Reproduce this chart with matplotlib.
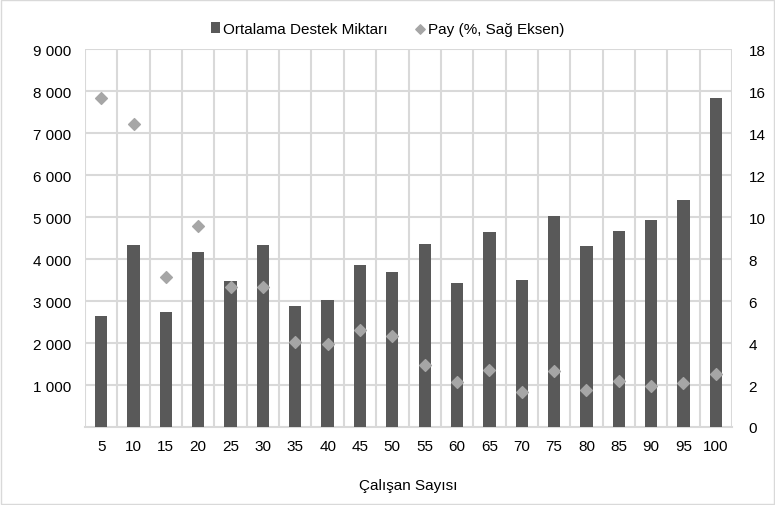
import numpy as np
import matplotlib.pyplot as plt
from matplotlib.ticker import FuncFormatter

plt.rcParams['font.family'] = ['Liberation Sans', 'DejaVu Sans']

# data
calisan = [5, 10, 15, 20, 25, 30, 35, 40, 45, 50,
           55, 60, 65, 70, 75, 80, 85, 90, 95, 100]
destek = [2650, 4340, 2750, 4160, 3480, 4340, 2880, 3020, 3850, 3690,
          4350, 3420, 4650, 3500, 5020, 4300, 4670, 4940, 5400, 7830]
pay = [15.65, 14.41, 7.16, 9.57, 6.68, 6.68, 4.05, 3.95, 4.6, 4.33,
       2.95, 2.16, 2.71, 1.65, 2.65, 1.75, 2.2, 1.94, 2.1, 2.52]

bar_color = '#595959'
dot_color = '#a6a6a6'
grid_color = '#d9d9d9'
fs = 11

fig = plt.figure(figsize=(7.75, 5.06), dpi=100)
ax = fig.add_axes([85 / 775, 1 - 428 / 506, (732 - 85) / 775, (428 - 50) / 506])
ax2 = ax.twinx()

x = np.arange(len(calisan))
ax.bar(x, destek, width=0.38, color=bar_color, zorder=3, label='Ortalama Destek Miktarı')
ax2.scatter(x, pay, marker='D', s=36, color=dot_color, zorder=4, label='Pay (%, Sağ Eksen)')

ax.set_xlim(-0.5, len(calisan) - 0.5)
ax.set_ylim(0, 9000)
ax2.set_ylim(0, 18)
ax.set_yticks(range(1000, 9001, 1000))
ax2.set_yticks(range(0, 19, 2))
ax.yaxis.set_major_formatter(FuncFormatter(lambda v, p: f'{int(v):,}'.replace(',', ' ')))
ax.set_xticks(x)
ax.set_xticklabels([str(c) for c in calisan])

# grid: horizontal at each 1000, vertical between categories
for y in range(1000, 9001, 1000):
    ax.axhline(y, color=grid_color, lw=1.5, zorder=0)
for b in np.arange(-0.5, len(calisan), 1.0):
    ax.axvline(b, color=grid_color, lw=1.5, zorder=0)

for a in (ax, ax2):
    for s in a.spines.values():
        s.set_visible(False)
    a.tick_params(length=0, labelsize=fs, colors='#000000')
ax.spines['bottom'].set_visible(True)
ax.spines['bottom'].set_color(grid_color)
ax.spines['bottom'].set_linewidth(1.5)
ax.tick_params(axis='x', pad=9)
ax.tick_params(axis='y', pad=10)
ax2.tick_params(axis='y', pad=12)

ax.set_xlabel('Çalışan Sayısı', fontsize=fs, labelpad=18)

h1, l1 = ax.get_legend_handles_labels()
h2, l2 = ax2.get_legend_handles_labels()
fig.legend(h1 + h2, l1 + l2, loc='center', bbox_to_anchor=(0.5, 1 - 30 / 506),
           ncol=2, frameon=False, fontsize=fs, handlelength=0.6,
           handletextpad=0.2, columnspacing=1.8, markerscale=0.8)

fig.patches.append(plt.Rectangle((0.001, 0.001), 0.998, 0.998, transform=fig.transFigure,
                                 fill=False, edgecolor='#d9d9d9', lw=1))

plt.savefig('out.png', dpi=100)
